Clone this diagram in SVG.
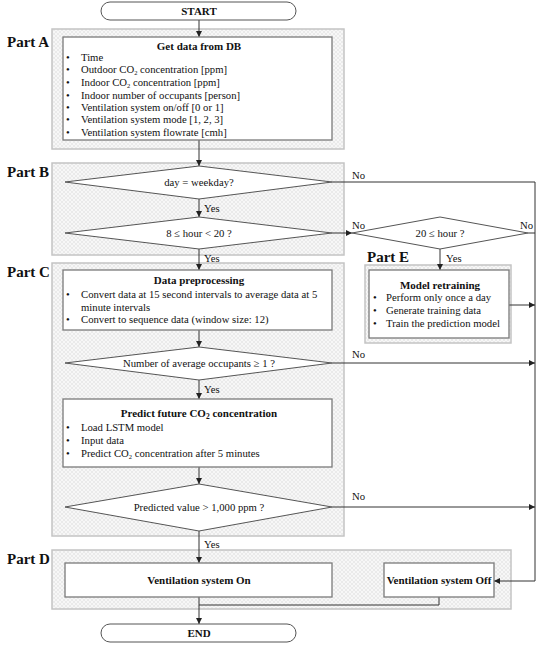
<svg xmlns="http://www.w3.org/2000/svg" width="540" height="645" viewBox="0 0 540 645">
<defs>
<pattern id="hatch" width="4" height="4" patternUnits="userSpaceOnUse">
<rect width="4" height="4" fill="#f7f7f7"/>
<path d="M0,0 L4,4 M4,0 L0,4" stroke="#e0e0e0" stroke-width="0.6"/>
</pattern>
<marker id="ah" markerWidth="8" markerHeight="8" refX="6" refY="3" orient="auto" markerUnits="userSpaceOnUse">
<path d="M0,0 L6,3 L0,6 Z" fill="#222"/>
</marker>
</defs>
<style>
.part{fill:url(#hatch);stroke:#c4c4c4;stroke-width:1.5}
.box{fill:#fff;stroke:#7a7a7a;stroke-width:1.3}
.dia{fill:#fff;stroke:#555;stroke-width:1}
.term{fill:#fff;stroke:#555;stroke-width:1}
.ln{fill:none;stroke:#333;stroke-width:1}
.t{font-family:"Liberation Serif",serif;font-size:10.7px;fill:#111}
.b{font-family:"Liberation Serif",serif;font-size:11px;font-weight:bold;fill:#111}
.p{font-family:"Liberation Serif",serif;font-size:15px;font-weight:bold;fill:#111}
.c{text-anchor:middle}
.sub{font-size:6.5px}
</style>
<rect width="540" height="645" fill="#fff"/>

<g id="partA">
<rect class="part" x="52" y="29" width="292" height="120"/>
<text class="p" x="7" y="47">Part A</text>
</g>
<g id="partB">
<rect class="part" x="52" y="163" width="292" height="92"/>
<text class="p" x="7" y="177">Part B</text>
</g>
<g id="partC">
<rect class="part" x="52" y="263" width="292" height="273"/>
<text class="p" x="7" y="277">Part C</text>
</g>
<g id="partD">
<rect class="part" x="52" y="550" width="459" height="59"/>
<text class="p" x="7" y="564">Part D</text>
</g>
<g id="partE">
<rect class="part" x="365" y="265" width="146" height="78"/>
<text class="p" x="367" y="262">Part E</text>
</g>

<g id="connectors">
<line class="ln" x1="199" y1="20" x2="199" y2="37" marker-end="url(#ah)"/>
<line class="ln" x1="199" y1="140" x2="199" y2="166" marker-end="url(#ah)"/>
<line class="ln" x1="199" y1="199" x2="199" y2="217" marker-end="url(#ah)"/>
<line class="ln" x1="199" y1="249" x2="199" y2="270" marker-end="url(#ah)"/>
<line class="ln" x1="199" y1="330" x2="199" y2="347" marker-end="url(#ah)"/>
<line class="ln" x1="199" y1="380" x2="199" y2="399" marker-end="url(#ah)"/>
<line class="ln" x1="199" y1="467" x2="199" y2="484" marker-end="url(#ah)"/>
<line class="ln" x1="199" y1="531" x2="199" y2="563" marker-end="url(#ah)"/>
<line class="ln" x1="199" y1="597" x2="199" y2="624" marker-end="url(#ah)"/>
<polyline class="ln" points="439,597 439,605 199,605"/>
<line class="ln" x1="332" y1="233" x2="352" y2="233" marker-end="url(#ah)"/>
<line class="ln" x1="440" y1="249" x2="440" y2="270" marker-end="url(#ah)"/>
<polyline class="ln" points="332,182 535,182 535,581" />
<line class="ln" x1="535" y1="581" x2="494" y2="581" marker-end="url(#ah)"/>
<line class="ln" x1="528" y1="233" x2="535" y2="233"/>
<line class="ln" x1="509" y1="305" x2="535" y2="305" marker-end="url(#ah)"/>
<line class="ln" x1="332" y1="363" x2="535" y2="363" marker-end="url(#ah)"/>
<line class="ln" x1="332" y1="507" x2="535" y2="507" marker-end="url(#ah)"/>
<text class="t" x="352" y="179">No</text>
<text class="t" x="204" y="212">Yes</text>
<text class="t" x="204" y="262">Yes</text>
<text class="t" x="352" y="229">No</text>
<text class="t" x="520" y="229">No</text>
<text class="t" x="446" y="262">Yes</text>
<text class="t" x="352" y="358">No</text>
<text class="t" x="204" y="393">Yes</text>
<text class="t" x="352" y="500">No</text>
<text class="t" x="204" y="548">Yes</text>
</g>

<g id="start">
<rect class="term" x="101" y="2" width="195" height="18" rx="9"/>
<text class="b c" x="199" y="15">START</text>
</g>

<g id="getData">
<rect class="box" x="63" y="37" width="269" height="103"/>
<text class="b c" x="199" y="50">Get data from DB</text>
<g class="t">
<text x="66" y="61">•</text><text x="81" y="61">Time</text>
<text x="66" y="73">•</text><text x="81" y="73">Outdoor CO<tspan class="sub" dy="1.5">2</tspan><tspan dy="-1.5"> concentration [ppm]</tspan></text>
<text x="66" y="86">•</text><text x="81" y="86">Indoor CO<tspan class="sub" dy="1.5">2</tspan><tspan dy="-1.5"> concentration [ppm]</tspan></text>
<text x="66" y="99">•</text><text x="81" y="99">Indoor number of occupants [person]</text>
<text x="66" y="111">•</text><text x="81" y="111">Ventilation system on/off [0 or 1]</text>
<text x="66" y="123">•</text><text x="81" y="123">Ventilation system mode [1, 2, 3]</text>
<text x="66" y="136">•</text><text x="81" y="136">Ventilation system flowrate [cmh]</text>
</g>
</g>

<g id="weekday">
<polygon class="dia" points="199,166 332,182 199,199 65,182"/>
<text class="t c" x="199" y="186">day = weekday?</text>
</g>

<g id="hour1">
<polygon class="dia" points="199,217 332,233 199,249 65,233"/>
<text class="t c" x="199" y="237">8 ≤ hour &lt; 20 ?</text>
</g>

<g id="hour2">
<polygon class="dia" points="440,217 528,233 440,249 352,233"/>
<text class="t c" x="440" y="237">20 ≤ hour ?</text>
</g>

<g id="retrain">
<rect class="box" x="369" y="270" width="140" height="68"/>
<text class="b c" x="440" y="289">Model retraining</text>
<g class="t">
<text x="373" y="301">•</text><text x="386" y="301">Perform only once a day</text>
<text x="373" y="314">•</text><text x="386" y="314">Generate training data</text>
<text x="373" y="327">•</text><text x="386" y="327">Train the prediction model</text>
</g>
</g>

<g id="preproc">
<rect class="box" x="63" y="270" width="269" height="60"/>
<text class="b c" x="199" y="284">Data preprocessing</text>
<g class="t">
<text x="66" y="298">•</text><text x="81" y="298">Convert data at 15 second intervals to average data at 5</text>
<text x="81" y="311">minute intervals</text>
<text x="66" y="323">•</text><text x="81" y="323">Convert to sequence data (window size: 12)</text>
</g>
</g>

<g id="occupants">
<polygon class="dia" points="199,347 332,363 199,380 65,363"/>
<text class="t c" x="199" y="367">Number of average occupants ≥ 1 ?</text>
</g>

<g id="predict">
<rect class="box" x="63" y="399" width="269" height="68"/>
<text class="b c" x="199" y="417">Predict future CO<tspan font-size="7.5" dy="2">2</tspan><tspan dy="-2"> concentration</tspan></text>
<g class="t">
<text x="66" y="431">•</text><text x="81" y="431">Load LSTM model</text>
<text x="66" y="444">•</text><text x="81" y="444">Input data</text>
<text x="66" y="457">•</text><text x="81" y="457">Predict CO<tspan class="sub" dy="1.5">2</tspan><tspan dy="-1.5"> concentration after 5 minutes</tspan></text>
</g>
</g>

<g id="threshold">
<polygon class="dia" points="199,484 332,507 199,531 65,507"/>
<text class="t c" x="199" y="511">Predicted value &gt; 1,000 ppm ?</text>
</g>

<g id="ventOn">
<rect class="box" x="65" y="563" width="267" height="34"/>
<text class="b c" x="199" y="584">Ventilation system On</text>
</g>

<g id="ventOff">
<rect class="box" x="384" y="563" width="110" height="34"/>
<text class="b c" x="439" y="584" font-size="10.3">Ventilation system Off</text>
</g>

<g id="end">
<rect class="term" x="101" y="624" width="195" height="18" rx="9"/>
<text class="b c" x="199" y="637">END</text>
</g>
</svg>
